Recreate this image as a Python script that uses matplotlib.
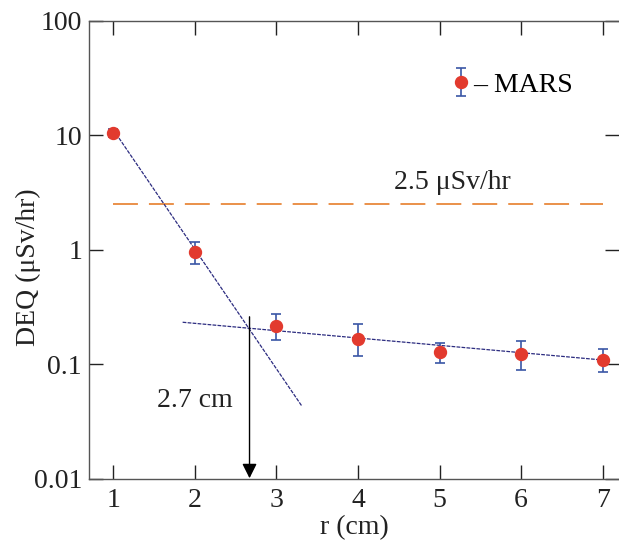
import numpy as np
import matplotlib
matplotlib.use("Agg")
import matplotlib.pyplot as plt

# --- Data ---
r_cm = [1, 2, 3, 4, 5, 6, 7]
deq = [10.5, 0.95, 0.217, 0.167, 0.127, 0.123, 0.109]
err_lo = [0.9, 0.20, 0.054, 0.050, 0.024, 0.033, 0.023]
err_hi = [0.9, 0.22, 0.057, 0.057, 0.028, 0.036, 0.027]

# fitted lines (end points)
fit1_x = [1.0, 3.31]
fit1_y = [11.2, 0.0433]
fit2_x = [1.85, 7.0]
fit2_y = [0.233, 0.109]

limit_x = [1.0, 7.0]
limit_y = [2.5, 2.5]

cross_r = 2.67

plt.rcParams['font.family'] = ['Liberation Serif', 'DejaVu Serif']
FS = 20

fig = plt.figure(figsize=(6.19, 5.44), dpi=100)
ax = fig.add_axes([0.1438, 0.120, 0.8562, 0.8414])

ax.set_yscale('log')
ax.set_xlim(0.702, 7.2)
ax.set_ylim(0.01, 100)

# threshold line
ax.plot(limit_x, limit_y, color='#e8883c', lw=1.3, linestyle=(0, (13.8, 6.1)))
ax.text(5.16, 3.85, '2.5 μSv/hr', fontsize=FS, ha='center', va='center', color='#222222')

# fit lines
ax.plot(fit1_x, fit1_y, color='#2c2c80', lw=0.9, linestyle=(0, (3, 1)))
ax.plot(fit2_x, fit2_y, color='#2c2c80', lw=0.9, linestyle=(0, (3, 1)))

# data
ax.errorbar(r_cm, deq, yerr=[err_lo, err_hi], fmt='o', color='#e23a2e', ms=8.6,
            ecolor='#3a56a6', elinewidth=1.2, capsize=3.5, capthick=1.2,
            label='– MARS', zorder=3)

# crossing arrow
ax.annotate('', xy=(cross_r, 0.0101), xytext=(cross_r, 0.26),
            arrowprops=dict(arrowstyle='-|>', color='black', lw=1.0, mutation_scale=22,
                            shrinkA=0, shrinkB=0))
ax.text(2.0, 0.048, '2.7 cm', fontsize=FS, ha='center', va='center', color='#222222')

ax.legend(loc='center left', bbox_to_anchor=(0.668, 0.86), frameon=False, fontsize=FS,
          handlelength=0.5, handletextpad=0.2, borderaxespad=0)

ax.set_xticks(r_cm)
ax.set_yticks([0.01, 0.1, 1, 10, 100])
ax.set_yticklabels(['0.01', '0.1', '1', '10', '100'])
ax.yaxis.set_minor_locator(matplotlib.ticker.NullLocator())
ax.tick_params(direction='in', length=10, width=1.0, labelsize=FS, top=True, right=True,
               colors='#222222', pad=7)
ax.tick_params(axis='y', pad=5)
for s in ax.spines.values():
    s.set_color('#555555')
    s.set_linewidth(1.0)
ax.spines['right'].set_visible(False)

ax.set_xlabel('r (cm)', fontsize=FS, labelpad=1, color='#222222')
ax.set_ylabel('DEQ (μSv/hr)', fontsize=FS, color='#222222', va='center')
ax.yaxis.set_label_coords(-0.115, 0.4625)

fig.savefig('out.png', dpi=100)
